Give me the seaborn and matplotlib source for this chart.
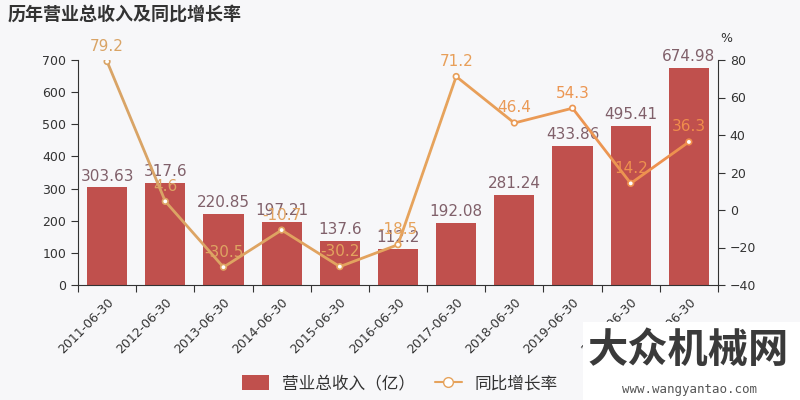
import numpy as np
import pandas as pd
import matplotlib
matplotlib.use("Agg")
import matplotlib.pyplot as plt
import seaborn as sns
from matplotlib.patches import Rectangle
from matplotlib.lines import Line2D
from matplotlib.colors import LinearSegmentedColormap

dates = ["2011-06-30", "2012-06-30", "2013-06-30", "2014-06-30", "2015-06-30",
         "2016-06-30", "2017-06-30", "2018-06-30", "2019-06-30", "2020-06-30", "2021-06-30"]
revenue = [303.63, 317.6, 220.85, 197.21, 137.6, 112.2, 192.08, 281.24, 433.86, 495.41, 674.98]
revenue_labels = ["303.63", "317.6", "220.85", "197.21", "137.6", "112.2", "192.08",
                  "281.24", "433.86", "495.41", "674.98"]
growth = [79.2, 4.6, -30.5, -10.7, -30.2, -18.5, 71.2, 46.4, 54.3, 14.2, 36.3]

sns.set_theme(style="white")
plt.rcParams["font.family"] = ["Noto Sans CJK SC", "DejaVu Sans"]

BG = "#f7f7f9"
BAR = "#c0504d"
TXT = "#333333"

fig = plt.figure(figsize=(8, 4), dpi=100, facecolor=BG)
ax = fig.add_axes([0.0975, 0.2875, 0.80, 0.5625])
ax.set_facecolor(BG)

df = pd.DataFrame({"date": dates, "revenue": revenue})
sns.barplot(data=df, x="date", y="revenue", color=BAR, width=0.69, ax=ax,
            saturation=1, edgecolor="none")
ax.set_xlim(-0.5, len(dates) - 0.5)
ax.set_ylim(0, 700)
ax.set_yticks(range(0, 701, 100))
ax.set_xlabel("")
ax.set_ylabel("")
for i, (v, lab) in enumerate(zip(revenue, revenue_labels)):
    ax.text(i, v + 12, lab, ha="center", va="bottom", fontsize=11,
            color="#80606a", family="DejaVu Sans")

ax.set_xticks(range(len(dates)))
ax.set_xticklabels(dates, rotation=45, ha="right", rotation_mode="anchor",
                   fontsize=9, color=TXT, family="DejaVu Sans")
ax.tick_params(axis="x", which="major", length=0, pad=8)
ax.set_xticks(np.arange(-0.5, len(dates) + 0.5, 1), minor=True)
ax.tick_params(axis="x", which="minor", length=5, color=TXT, width=0.8, bottom=True)
ax.tick_params(axis="y", length=5, color=TXT, width=0.8, labelsize=9,
               labelcolor=TXT, left=True)
for lab in ax.get_yticklabels():
    lab.set_family("DejaVu Sans")

for s in ["top", "right"]:
    ax.spines[s].set_visible(False)
for s in ["left", "bottom"]:
    ax.spines[s].set_color(TXT)
    ax.spines[s].set_linewidth(0.8)

ax2 = ax.twinx()
ax2.set_ylim(-40, 80)
ax2.set_yticks(range(-40, 81, 20))
cmap = LinearSegmentedColormap.from_list("g", ["#d9a466", "#e6a35c", "#f08d4c"])
cols = [cmap(i / (len(growth) - 1)) for i in range(len(growth))]
xs = np.arange(len(growth))
for i in range(len(growth) - 1):
    ax2.plot(xs[i:i + 2], growth[i:i + 2], color=cols[i], lw=2, solid_capstyle="round")
sns.scatterplot(x=xs, y=growth, ax=ax2, s=16, facecolor="white",
                edgecolor=cols, linewidth=1.2, zorder=5, legend=False)
for i, v in enumerate(growth):
    ax2.text(i, v + 4, f"{v}", ha="center", va="bottom", fontsize=11,
             color=cols[i], family="DejaVu Sans")
ax2.tick_params(axis="y", length=5, color=TXT, width=0.8, labelsize=9,
                labelcolor=TXT, right=True)
for lab in ax2.get_yticklabels():
    lab.set_family("DejaVu Sans")
for s in ["top", "left", "bottom"]:
    ax2.spines[s].set_visible(False)
ax2.spines["right"].set_color(TXT)
ax2.spines["right"].set_linewidth(0.8)
ax2.set_ylabel("")
ax2.grid(False)
ax.grid(False)
fig.text(720 / 800, 1 - 38 / 400, "%", ha="left", va="center", fontsize=9, color=TXT,
         family="DejaVu Sans")

fig.text(8 / 800, 1 - 14 / 400, "历年营业总收入及同比增长率", ha="left", va="center",
         fontsize=13, color=TXT, fontweight="bold")

handles = [
    Rectangle((0, 0), 1, 1, facecolor=BAR, edgecolor="none"),
    Line2D([0], [0], color="#e6a35c", lw=1.5, marker="o", markersize=7,
           markerfacecolor="white", markeredgecolor="#e6a35c"),
]
fig.legend(handles, ["营业总收入（亿）", "同比增长率"], loc="center",
           bbox_to_anchor=(400 / 800, 1 - 384 / 400), ncol=2, frameon=False,
           fontsize=12, handlelength=1.6, handleheight=1.0, columnspacing=1.2,
           labelcolor=TXT)

fig.patches.append(Rectangle((583 / 800, 0), 217 / 800, 78 / 400, transform=fig.transFigure,
                             facecolor="white", edgecolor="none", zorder=10))
fig.text(688 / 800, 1 - 350 / 400, "大众机械网", ha="center", va="center", fontsize=29,
         color="#3a3a3a", fontweight="bold", zorder=11)
fig.text(690 / 800, 1 - 389 / 400, "www.wangyantao.com", ha="center", va="center",
         fontsize=9, color="#555555", zorder=11, family="DejaVu Sans Mono")

fig.savefig("out.png", dpi=100, facecolor=BG)
